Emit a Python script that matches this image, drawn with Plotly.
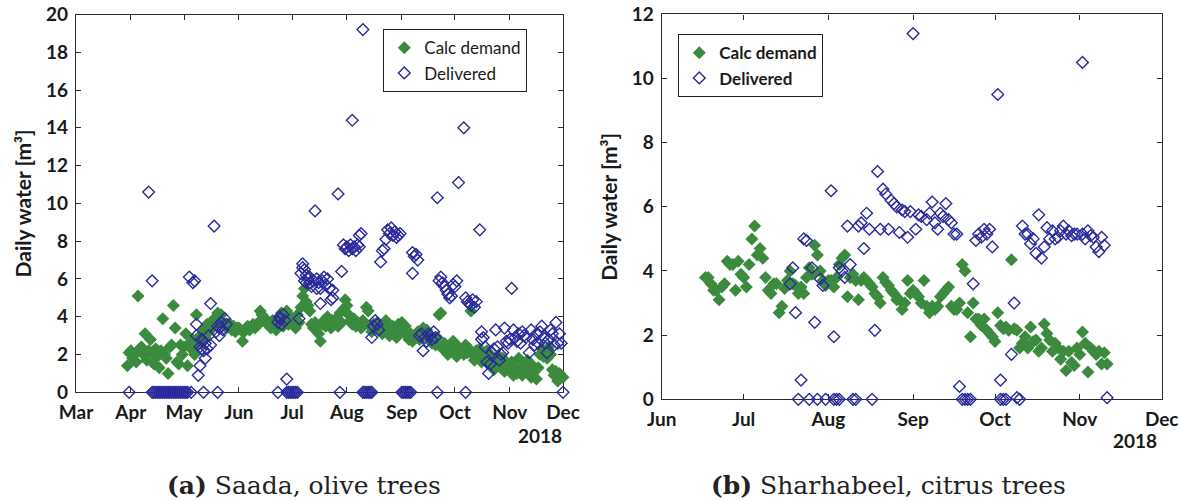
import pandas as pd
import plotly.graph_objects as go

W, H = 1179, 501

# ---------------- (a) Saada, olive trees ----------------
saada_demand_start = "2018-03-30"          # daily values from this date on
saada_demand = (
    [1.4, 2.1] +                                                     # Mar 30-31
    [2.2, 1.8, 2.0, 1.6, 5.1, 2.3, 2.4, 2.0, 3.1, 1.7, 2.2, 2.8, 2.1, 1.5, 2.3,
     1.9, 1.3, 2.2, 3.9, 2.0, 1.8, 1.0, 2.4, 2.5, 4.6, 3.4, 1.6, 1.5, 2.5, 2.0] +   # Apr
    [2.4, 3.1, 1.4, 2.6, 2.3, 2.8, 2.0, 4.1, 2.5, 3.0, 2.7, 3.3, 2.9, 3.6, 3.2,
     3.5, 3.4, 3.9, 3.6, 4.2, 3.8, 4.1, 3.7, 3.5, 3.4, 3.6, 3.6, 3.3, 3.5, 3.2, 3.4] +  # May
    [3.4, 3.3, 2.7, 3.2, 3.4, 3.5, 3.3, 3.4, 3.6, 3.4, 3.5, 3.7, 4.3, 4.1, 3.9,
     3.7, 3.8, 3.6, 3.4, 3.8, 3.5, 3.3, 3.9, 3.6, 4.2, 3.5, 3.8, 4.3, 3.6, 4.0] +   # Jun
    [3.9, 3.6, 3.4, 4.1, 3.7, 4.5, 5.1, 5.5, 4.8, 4.6, 4.3, 3.6, 3.4, 3.7, 3.5,
     3.1, 2.7, 3.6, 3.8, 3.5, 4.0, 3.7, 3.4, 3.8, 3.6, 3.9, 3.5, 4.2, 3.7, 4.4, 4.9] +  # Jul
    [4.6, 4.1, 3.8, 3.6, 3.9, 3.5, 3.7, 3.6, 3.4, 3.8, 3.6, 4.5, 4.3, 3.5, 3.2,
     3.6, 3.4, 3.7, 3.3, 3.5, 3.1, 3.6, 3.8, 3.4, 3.0, 3.3, 3.5, 3.2, 2.9, 3.6, 3.4] +  # Aug
    [3.7, 3.2, 3.5, 3.0, 2.8, 3.1, 2.7, 3.0, 2.9, 3.2, 2.8, 3.1, 3.4, 3.0, 3.3,
     2.9, 3.0, 2.6, 2.8, 2.5, 2.9, 4.1, 4.2, 2.3, 2.6, 2.4, 2.0, 2.5, 2.2, 2.7] +   # Sep
    [2.3, 1.9, 2.4, 2.2, 2.2, 2.0, 2.5, 2.1, 2.3, 4.3, 2.0, 1.7, 2.2, 1.9, 2.3,
     1.6, 2.0, 1.8, 2.2, 1.6, 1.4, 1.9, 1.2, 1.7, 1.5, 1.9, 1.3, 1.8, 1.1, 1.5, 1.4] +  # Oct
    [1.2, 1.6, 0.9, 1.3, 1.0, 1.8, 1.2, 0.9, 1.5, 1.3, 1.7, 1.0, 0.8, 1.4, 1.1,
     0.7, 1.3, 2.0, 2.3, 1.9, 2.1, 1.8, 2.4, 2.0, 1.2, 0.9, 1.1, 0.6, 1.0, 0.8] +   # Nov
    [0.8]                                                            # Dec 1
)

saada_deliv_dates = (
    ["03-31", "04-11", "04-13"] +
    ["04-13", "04-14", "04-15", "04-16", "04-17", "04-18", "04-19", "04-20", "04-21",
     "04-22", "04-23", "04-24", "04-25", "04-26", "04-27", "04-28", "04-29", "04-30",
     "05-01", "05-02", "05-03"] +
    ["05-04", "05-05", "05-06", "05-07", "05-08", "05-08", "05-09", "05-10", "05-10",
     "05-11", "05-11", "05-12", "05-12", "05-13", "05-13", "05-14", "05-15", "05-16",
     "05-16", "05-18", "05-19", "05-20", "05-20", "05-21", "05-21", "05-22", "05-23",
     "05-24", "05-25"] +
    ["06-23", "06-23", "06-24", "06-24", "06-25", "06-26", "06-27", "06-28", "06-28",
     "06-29", "06-30", "07-01", "07-02", "07-03", "07-04", "07-05"] +
    ["07-06", "07-07", "07-07", "07-08", "07-08", "07-09", "07-09", "07-10", "07-11",
     "07-11", "07-12", "07-13", "07-14", "07-15", "07-15", "07-16", "07-17", "07-17",
     "07-18", "07-19", "07-20", "07-21", "07-22", "07-23", "07-24", "07-24", "07-27",
     "07-28", "07-29"] +
    ["07-30", "07-31", "08-01", "08-02", "08-03", "08-04", "08-04", "08-05", "08-06",
     "08-07", "08-08", "08-08", "08-09", "08-10"] +
    ["08-10", "08-11", "08-12", "08-13", "08-14", "08-15"] +
    ["08-15", "08-16", "08-17", "08-18", "08-19", "08-20", "08-21", "08-22", "08-23",
     "08-24", "08-25", "08-26", "08-27", "08-28", "08-29", "08-30", "08-31"] +
    ["09-01", "09-02", "09-03", "09-04", "09-05", "09-06", "09-07", "09-07", "09-08",
     "09-09", "09-10"] +
    ["09-11", "09-12", "09-13", "09-14", "09-15", "09-16", "09-17", "09-18", "09-19",
     "09-20", "09-21", "09-21"] +
    ["09-22", "09-23", "09-24", "09-25", "09-26", "09-27", "09-28", "09-29", "09-30",
     "10-01", "10-02", "10-03", "10-06", "10-07"] +
    ["10-07", "10-08", "10-09", "10-10", "10-11", "10-12", "10-13", "10-15"] +
    ["10-16", "10-16", "10-17", "10-18", "10-19", "10-20", "10-21", "10-22", "10-23",
     "10-24", "10-25", "10-26", "10-27", "10-28", "10-29", "10-30", "10-31", "11-01",
     "11-02", "11-03", "11-04", "11-05", "11-06", "11-07", "11-08", "11-09", "11-10",
     "11-12", "11-13", "11-14", "11-15", "11-16", "11-17", "11-18", "11-19", "11-20",
     "11-21", "11-22", "11-23", "11-24", "11-25", "11-26", "11-27", "11-28", "11-29",
     "11-30", "12-01"]
)
saada_deliv = (
    [0, 10.6, 5.9] +
    [0] * 21 +
    [6.1, 0, 5.8, 5.9, 3.6, 3.0, 0.9, 1.4, 2.4,
     2.3, 2.8, 0, 2.2, 1.8, 2.6, 2.3, 3.0, 4.7,
     2.5, 8.8, 3.2, 0, 3.5, 3.4, 3.0, 3.7, 3.3,
     3.9, 3.6] +
    [0, 3.7, 3.9, 4.0, 3.6, 4.1, 3.8, 0.7, 0,
     0, 0, 0, 0, 0, 0, 3.9] +
    [6.3, 6.8, 6.6, 6.5, 5.9, 6.2, 5.8, 6.0, 5.8,
     6.1, 5.6, 5.9, 9.6, 6.0, 5.5, 5.8, 4.7, 5.5,
     5.9, 6.1, 5.7, 6.0, 5.5, 4.9, 5.4, 5.0, 10.5,
     0, 6.4] +
    [7.8, 7.6, 7.7, 7.5, 7.8, 14.4, 7.6, 7.7, 7.5,
     7.8, 7.7, 8.3, 8.4, 19.2] +
    [0, 0, 0, 0, 0, 0] +
    [2.9, 3.5, 3.8, 3.6, 3.3, 6.9, 7.5, 7.6, 8.1,
     8.6, 8.4, 8.7, 8.3, 8.5, 8.2, 8.3, 8.4] +
    [0, 0, 0, 0, 0, 0, 6.3, 7.4, 7.2,
     7.3, 7.0] +
    [3.0, 3.1, 2.2, 2.9, 2.7, 3.1, 3.0, 2.8, 3.2,
     2.9, 10.3, 0] +
    [5.9, 6.1, 5.8, 5.6, 5.4, 5.2, 5.0, 5.1, 5.7,
     5.6, 5.9, 11.1, 14.0, 0] +
    [5.0, 4.8, 4.7, 4.6, 4.9, 4.5, 4.8, 8.6] +
    [2.8, 3.2, 2.9, 2.4, 1.6, 1.0, 1.5, 2.1, 2.3,
     3.3, 2.4, 1.7, 2.0, 2.1, 3.4, 2.7, 2.6, 2.8,
     5.5, 3.3, 2.9, 2.7, 3.1, 2.6, 3.2, 3.0, 2.9,
     2.1, 3.3, 2.8, 2.5, 3.1, 2.6, 3.2, 3.5, 2.9,
     2.6, 2.1, 2.8, 3.3, 3.1, 2.5, 3.7, 2.6, 3.1,
     2.6, 0]
)

# ---------------- (b) Sharhabeel, citrus trees ----------------
sharh_demand_start = "2018-06-17"
sharh_demand = (
    [3.8, 3.8, 3.6, 3.4, 3.4, 3.1, 3.5, 3.6, 4.3, 4.2, 4.2, 3.4, 4.3, 3.9] +      # Jun 17-30
    [3.8, 3.5, 4.2, 5.0, 5.4, 4.5, 4.7, 4.4, 3.8, 3.4, 3.3, 3.6, 3.6, 2.7, 2.9,
     3.45, 3.7, 4.0, 3.6, 3.55, 3.3, 3.5, 3.3, 3.8, 4.1, 3.9, 4.8, 4.5, 4.0, 3.7, 3.55] +  # Jul
    [3.7, 3.7, 3.5, 3.8, 4.2, 4.4, 4.5, 3.2, 3.8, 3.9, 3.7, 3.1, 3.7, 3.8, 3.7,
     3.6, 3.5, 3.3, 3.2, 3.0, 3.8, 3.65, 3.55, 3.4, 3.3, 3.1, 3.1, 2.8, 3.0, 3.7, 3.3] +  # Aug
    [3.4, 3.3, 3.2, 3.0, 3.7, 2.9, 2.7, 2.9, 2.8, 2.9, 3.2, 3.3, 3.4, 3.5, 2.9,
     2.8, 2.8, 3.0, 4.2, 4.0, 2.7, 1.95, 3.0, 2.5, 2.5, 2.3, 2.5, 2.15, 2.05, 1.95] +   # Sep
    [1.8, 2.7, 2.3, 2.2, 2.25, 2.15, 4.35, 2.2, 2.15, 1.6, 1.75, 1.95, 1.6, 2.25, 1.8,
     1.85, 1.5, 1.6, 2.35, 2.05, 1.85, 1.5, 1.75, 1.6, 1.25, 1.5, 0.9, 1.5, 1.15, 1.05, 1.6] +  # Oct
    [1.4, 2.1, 1.75, 0.85, 1.6, 1.5, 1.4, 1.5, 1.1, 1.45, 1.1]                  # Nov 1-11
)

sharh_deliv_dates = [
    "07-18", "07-19", "07-20", "07-21", "07-22", "07-23", "07-24", "07-25", "07-26",
    "07-27", "07-28", "07-29", "07-30", "07-31", "08-02", "08-03", "08-03", "08-04",
    "08-05", "08-05", "08-06", "08-07", "08-08", "08-09", "08-10", "08-11", "08-12",
    "08-13", "08-14", "08-15", "08-16", "08-17", "08-18", "08-19", "08-20", "08-21",
    "08-22", "08-23", "08-24", "08-25", "08-26", "08-27", "08-28", "08-29", "08-30",
    "08-31", "09-01", "09-02", "09-03", "09-04", "09-06", "09-07", "09-08", "09-09",
    "09-10", "09-11", "09-12", "09-13", "09-14", "09-15", "09-16", "09-17", "09-18",
    "09-19", "09-20", "09-21", "09-22", "09-23", "09-24", "09-25", "09-26", "09-27",
    "09-28", "09-29", "09-30", "10-02", "10-03", "10-03", "10-04", "10-05", "10-07",
    "10-08", "10-09", "10-10", "10-11", "10-12", "10-13", "10-14", "10-15", "10-16",
    "10-17", "10-18", "10-19", "10-20", "10-21", "10-22", "10-23", "10-24", "10-25",
    "10-26", "10-27", "10-28", "10-29", "10-30", "10-31", "11-02", "11-02", "11-03",
    "11-04", "11-05", "11-06", "11-07", "11-08", "11-09", "11-10", "11-11",
]
sharh_deliv = [
    3.6, 4.1, 2.7, 0, 0.6, 5.0, 4.95, 0, 4.1,
    2.4, 0, 3.75, 3.55, 0, 6.5, 1.95, 0, 0,
    0, 4.1, 4.0, 3.8, 5.4, 4.2, 0, 0, 5.4,
    5.5, 4.7, 5.8, 5.3, 0, 2.15, 7.1, 5.3, 6.55,
    6.4, 5.3, 6.2, 6.1, 6.0, 5.2, 5.9, 5.85, 5.05,
    5.85, 11.4, 5.3, 5.75, 5.7, 5.6, 5.8, 6.15, 5.5,
    5.3, 5.8, 5.7, 6.1, 5.6, 5.5, 5.15, 5.15, 0.4,
    0, 0, 0, 0, 3.6, 4.95, 5.15, 5.05, 5.3,
    5.15, 5.3, 4.75, 9.5, 0.6, 0, 0, 0, 1.4,
    3.0, 0.05, 0, 5.4, 5.15, 5.15, 4.85, 5.0, 4.55,
    5.75, 4.4, 4.75, 5.35, 5.0, 5.25, 5.0, 5.05, 5.25,
    5.4, 5.15, 5.25, 5.1, 5.15, 5.15, 10.5, 5.15, 5.0,
    5.25, 5.1, 5.05, 4.75, 4.6, 5.05, 4.8, 0.05,
]

months_a = ["Mar", "Apr", "May", "Jun", "Jul", "Aug", "Sep", "Oct", "Nov", "Dec"]
months_b = ["Jun", "Jul", "Aug", "Sep", "Oct", "Nov", "Dec"]
month_num = {"Mar": 3, "Apr": 4, "May": 5, "Jun": 6, "Jul": 7, "Aug": 8,
             "Sep": 9, "Oct": 10, "Nov": 11, "Dec": 12}
YEAR = 2018

# ---------------- build ----------------
GREEN = "#3b8b3f"
BLUE = "#2a2a9c"
AX = "#2b2b2b"
TXT = "#1a1a1a"
FONT = "Lato"

def px_x(p):
    return p / W

def px_y(p):
    return 1 - p / H

sa_dem_x = pd.date_range(saada_demand_start, periods=len(saada_demand), freq="D")
sh_dem_x = pd.date_range(sharh_demand_start, periods=len(sharh_demand), freq="D")
sa_del_x = pd.to_datetime([f"{YEAR}-{d}" for d in saada_deliv_dates])
sh_del_x = pd.to_datetime([f"{YEAR}-{d}" for d in sharh_deliv_dates])

fig = go.Figure()

def add_pair(dx, dy, ex, ey, xa, ya, leg):
    fig.add_trace(go.Scatter(
        x=dx, y=dy, mode="markers", name="Calc demand", xaxis=xa, yaxis=ya,
        legend=leg, cliponaxis=False,
        marker=dict(symbol="diamond", size=10, color=GREEN, line=dict(width=0))))
    fig.add_trace(go.Scatter(
        x=ex, y=ey, mode="markers", name="Delivered", xaxis=xa, yaxis=ya,
        legend=leg, cliponaxis=False,
        marker=dict(symbol="diamond-open", size=9, color=BLUE,
                    line=dict(width=1.4, color=BLUE))))

add_pair(sa_dem_x, saada_demand, sa_del_x, saada_deliv, "x", "y", "legend")
add_pair(sh_dem_x, sharh_demand, sh_del_x, sharh_deliv, "x2", "y2", "legend2")

tickfont = dict(family=FONT, size=19, color=TXT, weight="bold")

def xaxis(domain, months, anchor):
    vals = [f"{YEAR}-{month_num[m]:02d}-01" for m in months]
    return dict(domain=domain, anchor=anchor, type="date", automargin=False,
                range=[vals[0], vals[-1]], tickvals=vals, ticktext=months,
                ticks="inside", ticklen=5, tickwidth=1.2, tickcolor=AX,
                showline=True, linecolor=AX, linewidth=1.4, mirror="ticks",
                showgrid=False, zeroline=False, tickfont=tickfont,
                ticklabelstandoff=3, layer="below traces")

def yaxis(domain, top, anchor):
    return dict(domain=domain, anchor=anchor, range=[0, top], dtick=2, tick0=0,
                automargin=False,
                ticks="inside", ticklen=5, tickwidth=1.2, tickcolor=AX,
                showline=True, linecolor=AX, linewidth=1.4, mirror="ticks",
                showgrid=False, zeroline=False, tickfont=tickfont,
                ticklabelstandoff=3, layer="below traces",
                title=dict(text="Daily water [m³]", standoff=8,
                           font=dict(family=FONT, size=21, color=TXT, weight="bold")))

fig.update_layout(
    width=W, height=H, margin=dict(l=0, r=0, t=0, b=0, autoexpand=False),
    paper_bgcolor="white", plot_bgcolor="white",
    xaxis=xaxis([px_x(76), px_x(563)], months_a, "y"),
    yaxis=yaxis([px_y(392.3), px_y(14.5)], 20, "x"),
    xaxis2=xaxis([px_x(661.7), px_x(1161.7)], months_b, "y2"),
    yaxis2=yaxis([px_y(399.3), px_y(14.3)], 12, "x2"),
    legend=dict(x=px_x(383), y=px_y(29), xanchor="left", yanchor="top",
                bgcolor="white", bordercolor="#222", borderwidth=1.3,
                font=dict(family=FONT, size=17, color=TXT),
                tracegroupgap=0, itemwidth=30, entrywidth=138, entrywidthmode="pixels"),
    legend2=dict(x=px_x(678), y=px_y(34), xanchor="left", yanchor="top",
                 bgcolor="white", bordercolor="#222", borderwidth=1.3,
                 font=dict(family=FONT, size=17, color=TXT, weight="bold"),
                 tracegroupgap=0, itemwidth=30, entrywidth=135, entrywidthmode="pixels"),
    showlegend=True,
)

ann = dict(xref="paper", yref="paper", showarrow=False, xanchor="center", yanchor="middle")
fig.add_annotation(text="<b>2018</b>", x=px_x(540), y=px_y(435),
                   font=dict(family=FONT, size=19, color=TXT), **ann)
fig.add_annotation(text="<b>2018</b>", x=px_x(1135), y=px_y(440),
                   font=dict(family=FONT, size=19, color=TXT), **ann)
fig.add_annotation(text="<b>(a)</b> Saada, olive trees", x=px_x(304), y=px_y(485),
                   font=dict(family="DejaVu Serif", size=25, color="#222"), **ann)
fig.add_annotation(text="<b>(b)</b> Sharhabeel, citrus trees", x=px_x(888), y=px_y(485),
                   font=dict(family="DejaVu Serif", size=25, color="#222"), **ann)

fig.write_html("out.html")
